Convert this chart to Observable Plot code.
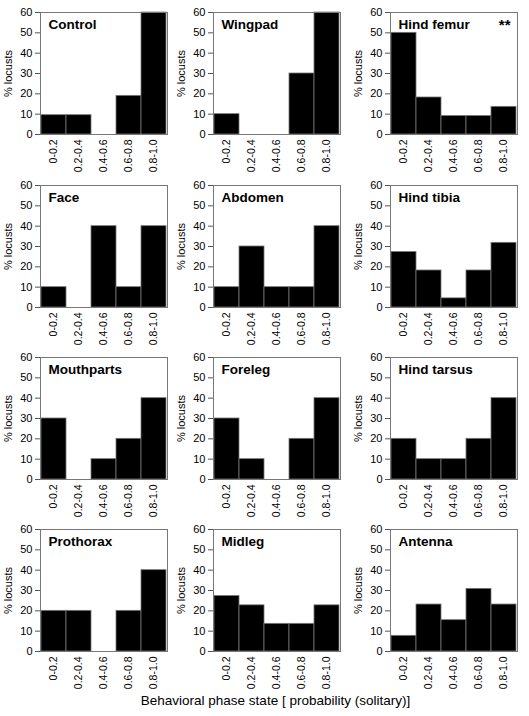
<!DOCTYPE html>
<html><head><meta charset="utf-8">
<script src="https://cdn.jsdelivr.net/npm/d3@7"></script>
<script src="https://cdn.jsdelivr.net/npm/@observablehq/plot@0.6"></script>
<style>
body{margin:0;background:#fff;}
#wrap{position:relative;width:529px;height:716px;font-family:"Liberation Sans",Arial,sans-serif;overflow:hidden;}
.panel{position:absolute;}
#xlabel{position:absolute;left:0;width:551px;top:693px;text-align:center;font-size:13.5px;color:#000;}
</style></head><body><div id="wrap"></div>
<script>
const bins = ["0-0.2","0.2-0.4","0.4-0.6","0.6-0.8","0.8-1.0"];
const panelNames = ["Control","Wingpad","Hind femur","Face","Abdomen","Hind tibia","Mouthparts","Foreleg","Hind tarsus","Prothorax","Midleg","Antenna"];
const control    = [9.5, 9.5, 0, 19, 60];
const wingpad    = [10, 0, 0, 30, 60];
const hindFemur  = [50, 18.2, 9.1, 9.1, 13.6];
const face       = [10, 0, 40, 10, 40];
const abdomen    = [10, 30, 10, 10, 40];
const hindTibia  = [27.3, 18.2, 4.5, 18.2, 31.8];
const mouthparts = [30, 0, 10, 20, 40];
const foreleg    = [30, 10, 0, 20, 40];
const hindTarsus = [20, 10, 10, 20, 40];
const prothorax  = [20, 20, 0, 20, 40];
const midleg     = [27.3, 22.7, 13.6, 13.6, 22.7];
const antenna    = [7.7, 23.1, 15.4, 30.8, 23.1];
const significance = ["", "", "**", "", "", "", "", "", "", "", "", ""];
const yTicks = [0, 10, 20, 30, 40, 50, 60];
const yLabel = "% locusts";
const xLabel = "Behavioral phase state [ probability (solitary)]";

const series = [control, wingpad, hindFemur, face, abdomen, hindTibia, mouthparts, foreleg, hindTarsus, prothorax, midleg, antenna];
const colLeft = [0, 173, 350];
const rowTop = [0, 173, 345, 517];
const wrap = document.getElementById("wrap");

series.forEach((vals, i) => {
  const data = bins.map((b, j) => ({bin: b, value: vals[j]}));
  const chart = Plot.plot({
    width: 175, height: 172,
    marginLeft: 40, marginRight: 8, marginTop: 12, marginBottom: 38,
    style: {fontFamily: "Liberation Sans, Arial, sans-serif", fontSize: "11px", color: "#000", background: "transparent"},
    x: {domain: bins, padding: 0},
    y: {domain: [0, 60]},
    marks: [
      Plot.barY(data, {x: "bin", y: "value", fill: "#000", stroke: "#777", strokeWidth: 0.8}),
      Plot.frame({stroke: "#777"}),
      Plot.axisY({ticks: yTicks, tickSize: 5, tickPadding: 3, fontSize: 11, label: yLabel, labelAnchor: "center", labelOffset: 36, labelArrow: false, stroke: "#555"}),
      Plot.axisX({tickSize: 0, tickPadding: 5, tickRotate: -90, fontSize: 10.5, label: null}),
      Plot.text([panelNames[i]], {frameAnchor: "top-left", dx: 8, dy: 7, fontWeight: "bold", fontSize: 13.5, fill: "#000"}),
      Plot.text([significance[i]], {frameAnchor: "top-right", dx: -7, dy: 7, fontWeight: "bold", fontSize: 15, fill: "#000"})
    ]
  });
  const div = document.createElement("div");
  div.className = "panel";
  div.style.left = colLeft[i % 3] + "px";
  div.style.top = rowTop[Math.floor(i / 3)] + "px";
  div.appendChild(chart);
  wrap.appendChild(div);
});
const lab = document.createElement("div");
lab.id = "xlabel";
lab.textContent = xLabel;
wrap.appendChild(lab);
</script>
</body></html>
